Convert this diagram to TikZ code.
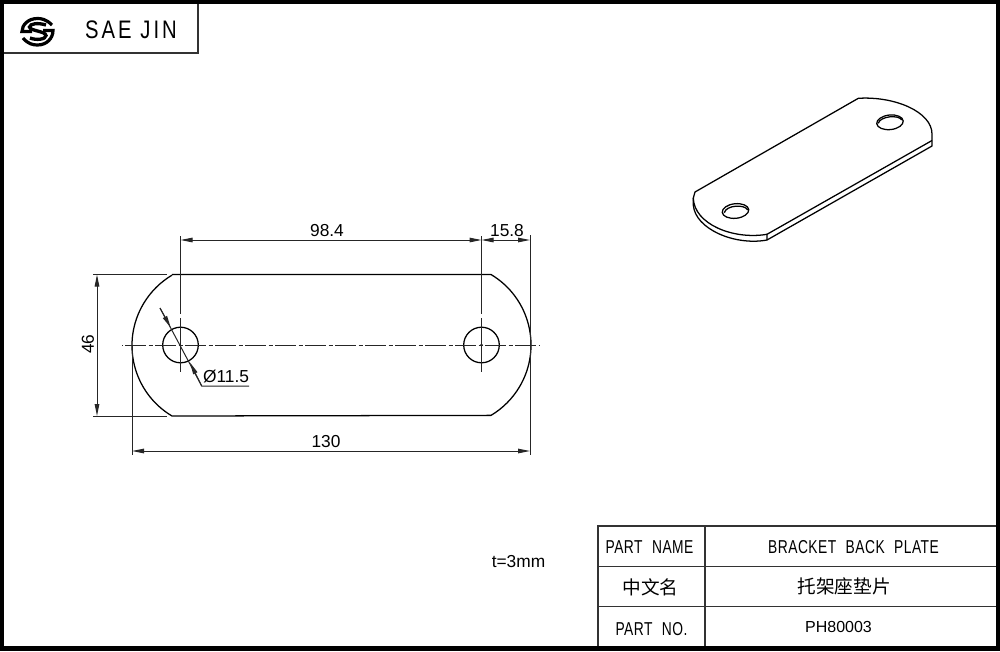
\documentclass[tikz,border=0pt]{standalone}
\usepackage{fontspec}
\usetikzlibrary{arrows.meta}
\setmainfont{Liberation Sans}
\newfontfamily\narrowfont[FakeStretch=0.8,LetterSpace=12]{Liberation Sans}
\newfontfamily\cellfont[FakeStretch=0.74,LetterSpace=2.5,WordSpace=2.2]{Liberation Sans}
\newfontfamily\cjkfont{Noto Sans CJK SC}
\begin{document}
\begin{tikzpicture}[x=.75pt,y=.75pt]
	\tikzset{outline/.style = {line width=.95pt,black}}
	\tikzset{frame/.style = {line width=1.05pt,black!80}}
	\tikzset{thinline/.style = {line width=.75pt,black!85}}
	\tikzset{tip/.tip = {Stealth[length=9pt,width=3.4pt,inset=0pt]}}
	\tikzset{dimline/.style = {thinline,tip-tip}}
	\tikzset{centerline/.style = {thinline,dash pattern=on 15.75pt off 1.9pt on 3pt off 1.85pt,dash phase=20.25pt}}
	\tikzset{dimtext/.style = {font=\fontsize{13}{15}\selectfont,inner sep=0pt}}
	\tikzset{cell/.style = {font=\cellfont\fontsize{14}{16}\selectfont,inner sep=0pt}}
	\tikzset{cjkcell/.style = {font=\cjkfont\fontsize{14}{16}\selectfont,inner sep=0pt}}
	\useasboundingbox (0,0) rectangle (1000,-651);
	\fill[white] (0,0) rectangle (1000,-651);
	% border
	\draw[line width=3.4pt] (2,-2) rectangle (998,-648.5);
	% title box
	\draw[frame] (4,-53) -- (198,-53) -- (198,-4);
	\draw[line width=2.4pt] (52,-25) .. controls (46,-19) and (41,-18.5) .. (37.5,-18.5) .. controls (28,-18.5) and (22,-25) .. (22,-31.5) -- (32,-31.5);
	\draw[line width=2.4pt] (23,-38) .. controls (28,-44) and (33,-45) .. (37.5,-45) .. controls (47,-45) and (53,-38) .. (53,-30.5) -- (43,-30.5);
	\draw[line width=2.5pt] (46,-25) .. controls (38,-22.5) and (30,-23.5) .. (29.5,-27) .. controls (30,-31) and (45.5,-31) .. (46,-35.5) .. controls (46,-39.5) and (36,-40.5) .. (30,-38);
	\node[font=\narrowfont\fontsize{19}{21}\selectfont,inner sep=0pt] (brand) at (131,-30) {SAE JIN};
	% plate
	\coordinate (hole1) at (180.5,-345);
	\coordinate (hole2) at (481.5,-345);
	\coordinate (topl) at (172,-274.5);
	\coordinate (topr) at (491,-274.5);
	\coordinate (botl) at (172,-416);
	\coordinate (botr) at (491,-416);
	\draw[outline] (topl) -- (topr) arc (59.2:-59.2:82) -- (botl) arc (239.2:120.8:82);
	\draw[outline] (hole1) circle (17.8);
	\draw[outline] (hole2) circle (17.8);
	\fill (hole2) circle (1.5);
	% center lines
	\coordinate (cl) at (122,-345);
	\coordinate (cr) at (540,-345);
	\draw[centerline] (cl) -- (cr);
	\draw[thinline] (180.5,-318) -- (180.5,-372);
	\draw[thinline] (481.5,-318) -- (481.5,-372);
	% extension lines
	\coordinate (e1) at (180.5,-236);
	\coordinate (e1b) at (180.5,-314);
	\coordinate (e2) at (481.5,-236);
	\coordinate (e2b) at (481.5,-314);
	\coordinate (e3) at (530,-235);
	\coordinate (e3b) at (530,-455);
	\coordinate (e4) at (132,-345);
	\coordinate (e4b) at (132,-455);
	\coordinate (e5) at (93,-274.5);
	\coordinate (e5b) at (167,-274.5);
	\coordinate (e6) at (93,-416);
	\coordinate (e6b) at (167,-416);
	\draw[thinline] (e1) -- (e1b);
	\draw[thinline] (e2) -- (e2b);
	\draw[thinline] (e3) -- (e3b);
	\draw[thinline] (e4) -- (e4b);
	\draw[thinline] (e5) -- (e5b);
	\draw[thinline] (e6) -- (e6b);
	% dimensions
	\coordinate (d1) at (180.5,-240);
	\coordinate (d2) at (481.5,-240);
	\coordinate (d3) at (530,-240);
	\coordinate (d4) at (132,-451);
	\coordinate (d5) at (530,-451);
	\coordinate (d6) at (97,-274.5);
	\coordinate (d7) at (97,-416);
	\draw[dimline] (d1) -- (d2);
	\draw[dimline] (d2) -- (d3);
	\draw[dimline] (d4) -- (d5);
	\draw[dimline] (d6) -- (d7);
	\node[dimtext] (len) at (327,-231) {98.4};
	\node[dimtext] (edge) at (507,-231) {15.8};
	\node[dimtext] (total) at (326,-442) {130};
	\node[dimtext,rotate=90] (width) at (88,-344) {46};
	\node[dimtext] (dia) at (226,-377) {Ø11.5};
	% leader
	\coordinate (l1) at (160,-308);
	\coordinate (l2) at (170.7,-327.5);
	\coordinate (l3) at (190,-362.5);
	\coordinate (l4) at (201.7,-386);
	\coordinate (l5) at (249,-386);
	\draw[thinline] (l1) -- (l4) -- (l5);
	\draw[thinline,-tip] (l1) -- (l2);
	\draw[thinline,-tip] (l4) -- (l3);
	\node[dimtext] (thick) at (518.5,-562) {t=3mm};
	% isometric view
	\draw[outline,line join=round] (695,-192) -- (858.3,-98.3)
		.. controls (895,-96) and (932,-112) .. (932,-134)
		-- (932,-146) -- (767,-240)
		.. controls (735,-246) and (695,-229) .. (693.3,-205)
		-- (693.3,-198) -- cycle;
	\draw[outline] (932,-140.5) -- (767,-234.3) -- (767,-240);
	\draw[outline] (693.3,-198) .. controls (694,-224) and (733,-240) .. (767,-234.3);
	\draw[outline,rotate around={6:(890,-122.3)}] (890,-122.3) ellipse (13.3 and 7.3);
	\draw[outline,rotate around={6:(735.5,-211)}] (735.5,-211) ellipse (13.3 and 7.3);
	\draw[outline] (878.3,-123.3) .. controls (880,-116) and (899,-114.5) .. (901.7,-120);
	\draw[outline] (724.3,-212.7) .. controls (726,-205) and (745,-204) .. (747.7,-210);
	% table
	\draw[frame] (598,-646) -- (598,-526) -- (996,-526);
	\draw[frame] (705,-526) -- (705,-646);
	\draw[frame] (598,-566.5) -- (996,-566.5);
	\draw[frame] (598,-606.5) -- (996,-606.5);
	\node[cell] (namekey) at (649.5,-547) {PART NAME};
	\node[cell] (nameval) at (853.5,-547) {BRACKET BACK PLATE};
	\node[cjkcell] (cnkey) at (650.5,-587) {中文名};
	\node[cjkcell] (cnval) at (844,-586) {托架座垫片};
	\node[cell] (nokey) at (651.5,-629) {PART NO.};
	\node[font=\fontsize{12}{14}\selectfont,inner sep=0pt] (noval) at (838.5,-627) {PH80003};
\end{tikzpicture}
\end{document}
